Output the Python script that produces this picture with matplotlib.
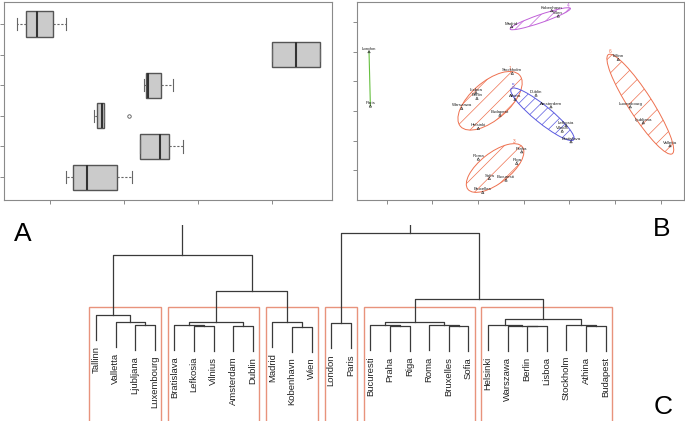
import numpy as np
import matplotlib.pyplot as plt
from matplotlib.patches import Ellipse, Rectangle

plt.rcParams['font.family'] = ['Liberation Sans', 'DejaVu Sans']
plt.rcParams['hatch.linewidth'] = 0.5

# ---- panel A: box plots, bottom row first
box_whislo = [1.21, 2.21, 1.59, 2.27, 4.00, 0.55]
box_q1 = [1.31, 2.22, 1.635, 2.30, 4.00, 0.67]
box_med = [1.50, 2.48, 1.70, 2.33, 4.32, 0.82]
box_q3 = [1.91, 2.61, 1.735, 2.50, 4.65, 1.04]
box_whishi = [2.11, 2.79, 1.735, 2.66, 4.65, 1.21]
box_fliers = [[], [], [2.07], [], [], []]

# ---- panel B: cluster plot
city_names = ['Kobenhavn', 'Wien', 'Madrid', 'London', 'Paris', 'Stockholm',
              'Lisboa', 'Berlin', 'Warszawa', 'Budapest', 'Helsinki', 'Athina',
              'Dublin', 'Amsterdam', 'Lefkosia', 'Vilnius', 'Bratislava',
              'Tallinn', 'Luxembourg', 'Ljubljana', 'Valletta', 'Praha', 'Riga',
              'Roma', 'Sofia', 'Bucuresti', 'Bruxelles']
city_x = [1.84, 2.27, -0.79, -10.16, -10.07, -0.75, -3.13, -3.07, -4.07, -1.56,
          -2.98, -0.57, 0.81, 1.79, 2.78, 2.53, 3.11, 6.21, 7.00, 7.85, 9.61,
          -0.13, -0.46, -2.98, -2.26, -1.16, -2.69]
city_y = [6.78, 6.42, 5.70, 4.01, 0.34, 2.55, 1.24, 0.86, 0.18, -0.27, -1.17,
          0.79, 1.08, 0.29, -0.97, -1.35, -2.07, 3.49, 0.29, -0.79, -2.34,
          -2.75, -3.53, -3.24, -4.55, -4.66, -5.49]

ell_label = ['1', '3', '4', '5', '6']
ell_cx = [-2.21, -1.88, 1.09, 1.23, 7.66]
ell_cy = [0.69, -3.85, 6.23, -0.22, 0.46]
ell_a = [2.60, 2.29, 2.10, 2.68, 3.95]
ell_b = [1.27, 1.02, 0.27, 0.57, 0.78]
ell_angle = [42, 39, 19.5, -40, -58]
ell_color = ['#ee7150', '#ee7150', '#c060d8', '#5a5ae0', '#ee7150']
ell_hatch = ['//', '//', '///', '///', '//']

# ---- panel C: dendrogram
leaves = ['Tallinn', 'Valletta', 'Ljubljana', 'Luxembourg', 'Bratislava',
          'Lefkosia', 'Vilnius', 'Amsterdam', 'Dublin', 'Madrid', 'Kobenhavn',
          'Wien', 'London', 'Paris', 'Bucuresti', 'Praha', 'Riga', 'Roma',
          'Bruxelles', 'Sofia', 'Helsinki', 'Warszawa', 'Berlin', 'Lisboa',
          'Stockholm', 'Athina', 'Budapest']
# (left, right, height); ints refer to earlier merges
merges = [('Ljubljana', 'Luxembourg', 6.25), ('Valletta', 0, 7.08), ('Tallinn', 1, 8.75),
          ('Lefkosia', 'Vilnius', 6.0), ('Bratislava', 3, 6.25), ('Amsterdam', 'Dublin', 6.08),
          (4, 5, 6.93), ('Kobenhavn', 'Wien', 5.83), ('Madrid', 7, 6.93), (6, 8, 14.75),
          (2, 9, 23.75), ('London', 'Paris', 6.68), ('Praha', 'Riga', 6.08),
          ('Bucuresti', 12, 6.18), ('Bruxelles', 'Sofia', 6.0), ('Roma', 14, 6.18),
          (13, 15, 7.08), ('Berlin', 'Lisboa', 6.0), ('Warszawa', 17, 6.08),
          ('Helsinki', 18, 6.18), ('Athina', 'Budapest', 6.0), ('Stockholm', 20, 6.33),
          (19, 21, 7.68), (16, 22, 12.68), (11, 23, 29.18), (10, 24, 36.0)]
hang = 6.25
n_clusters = 6

W, H = 685, 421
fig = plt.figure(figsize=(W / 100, H / 100), dpi=100)


def px_axes(x0, y0, x1, y1):
    return fig.add_axes([x0 / W, 1 - y1 / H, (x1 - x0) / W, (y1 - y0) / H])


def frame(ax):
    for s in ax.spines.values():
        s.set_color('#8a8a8a')
        s.set_linewidth(0.8)
    ax.tick_params(length=3, width=0.7, color='#8a8a8a', labelleft=False, labelbottom=False)


# A
axA = px_axes(4, 2, 332, 200)
stats = [dict(whislo=box_whislo[i], q1=box_q1[i], med=box_med[i], q3=box_q3[i],
              whishi=box_whishi[i], fliers=box_fliers[i]) for i in range(6)]
axA.bxp(stats, positions=range(1, 7), orientation='horizontal', widths=0.82,
        capwidths=0.4, patch_artist=True,
        boxprops=dict(facecolor='#cbcbcb', edgecolor='#555555', linewidth=1),
        medianprops=dict(color='#333333', linewidth=1.5),
        whiskerprops=dict(color='#666666', linewidth=0.8, linestyle=(0, (2, 1.5))),
        capprops=dict(color='#666666', linewidth=0.8),
        flierprops=dict(marker='o', markersize=2.5, markerfacecolor='none',
                        markeredgecolor='#555555', markeredgewidth=0.6))
axA.set_xlim(0.378, 4.81)
axA.set_ylim(0.25, 6.72)
axA.set_xticks([1, 2, 3, 4])
axA.set_yticks(range(1, 7))
frame(axA)

# B
axB = px_axes(357.3, 2, 684, 200)
for i in range(len(ell_cx)):
    axB.add_patch(Ellipse((ell_cx[i], ell_cy[i]), 2 * ell_a[i], 2 * ell_b[i],
                          angle=ell_angle[i], facecolor='none', edgecolor=ell_color[i],
                          hatch=ell_hatch[i], linewidth=0.7))
    t = np.radians(ell_angle[i])
    dy = np.sqrt((ell_a[i] * np.sin(t)) ** 2 + (ell_b[i] * np.cos(t)) ** 2)
    dx = (ell_a[i] ** 2 - ell_b[i] ** 2) * np.sin(t) * np.cos(t) / dy
    axB.text(ell_cx[i] + dx, ell_cy[i] + dy, ell_label[i], color=ell_color[i],
             fontsize=3.5, ha='center', va='bottom')
li, pi = city_names.index('London'), city_names.index('Paris')
axB.plot([city_x[li], city_x[pi]], [city_y[li], city_y[pi]], color='#66c040', lw=0.8)
axB.scatter(city_x, city_y, marker='^', s=3, facecolors='none', edgecolors='#222222',
            linewidths=0.4, zorder=3)
for name, x, y in zip(city_names, city_x, city_y):
    axB.annotate(name, (x, y), xytext=(0, 0.6), textcoords='offset points',
                 fontsize=3.2, ha='center', va='bottom', color='#222222')
axB.set_xlim(-10.93, 10.53)
axB.set_ylim(-6.01, 7.36)
axB.set_xticks(range(-9, 10, 3))
axB.set_yticks(range(-4, 7, 2))
frame(axB)

# C
axC = fig.add_axes([0, 0, 1, (H - 225) / H])
leaf_pos = {name: i + 1 for i, name in enumerate(leaves)}
node_x, node_h = [], []
lc = '#3a3a3a'


def child(ref, h):
    if isinstance(ref, str):
        x = leaf_pos[ref]
        axC.annotate(ref, (x, h - hang), xytext=(0, -4.3), textcoords='offset points',
                     rotation=90, ha='center', va='top', fontsize=6.8, color='#222222')
        return x, h - hang
    return node_x[ref], node_h[ref]


for l, r, h in merges:
    xl, yl = child(l, h)
    xr, yr = child(r, h)
    axC.plot([xl, xl, xr, xr], [yl, h, h, yr], color=lc, lw=0.9)
    node_x.append((xl + xr) / 2)
    node_h.append(h)

# rectangles around clusters
order = sorted(range(len(merges)), key=lambda i: -merges[i][2])
top = set(order[:n_clusters - 1])
rect_top = (merges[order[n_clusters - 2]][2] + merges[order[n_clusters - 1]][2]) / 2


def leaf_idx(ref):
    if isinstance(ref, str):
        return [leaf_pos[ref]]
    return leaf_idx(merges[ref][0]) + leaf_idx(merges[ref][1])


for m in top:
    for ref in merges[m][:2]:
        if isinstance(ref, int) and ref in top:
            continue
        idx = leaf_idx(ref)
        x0, x1 = min(idx) - 0.34, max(idx) + 0.33
        axC.add_patch(Rectangle((x0, -40), x1 - x0, rect_top + 40, facecolor='none',
                                edgecolor='#e8937c', linewidth=1))

axC.set_xlim(1 - 96 / 19.6, 1 + (W - 96) / 19.6)
axC.set_ylim(-17.75, 31.25)
axC.axis('off')

fig.text(23 / W, 1 - 234 / H, 'A', fontsize=19, ha='center', va='center')
fig.text(662 / W, 1 - 229 / H, 'B', fontsize=19, ha='center', va='center')
fig.text(663 / W, 1 - 407 / H, 'C', fontsize=19, ha='center', va='center')

fig.savefig('out.png', dpi=100)
